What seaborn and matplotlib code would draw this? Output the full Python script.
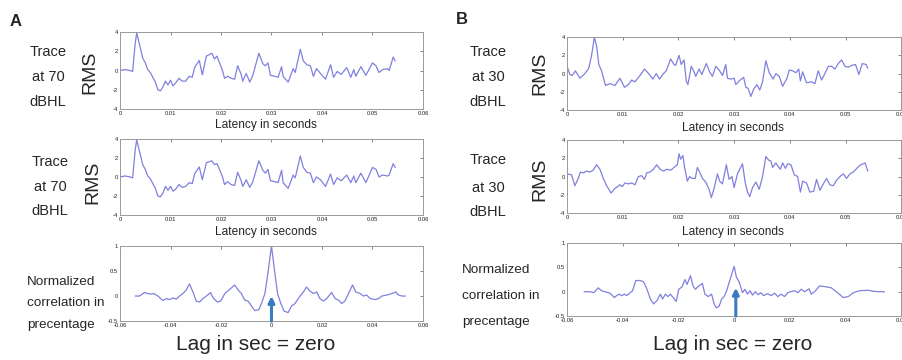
import numpy as np
import seaborn as sns
import matplotlib.pyplot as plt

# ---- data ----
# panel A, trace at 70 dBHL (top)
a1_t = [0, 0.001, 0.002, 0.0025, 0.003, 0.0033, 0.004, 0.0045, 0.005, 0.0055, 0.006, 0.007, 0.0075, 0.008,
        0.0085, 0.009, 0.0095, 0.010, 0.0105, 0.011, 0.0117, 0.0123, 0.013, 0.0137, 0.0143, 0.0148, 0.0157,
        0.0163, 0.0171, 0.0182, 0.0187, 0.0192, 0.0197, 0.0203, 0.0207, 0.0213, 0.022, 0.0227, 0.0233, 0.024,
        0.0243, 0.025, 0.0257, 0.0263, 0.0275, 0.0283, 0.0288, 0.0293, 0.0298, 0.0307, 0.0313, 0.032, 0.0323,
        0.0333, 0.0343, 0.0347, 0.0357, 0.0363, 0.037, 0.0377, 0.0383, 0.0389, 0.0397, 0.0407, 0.0417, 0.0423,
        0.043, 0.0438, 0.0449, 0.0457, 0.0463, 0.0467, 0.0477, 0.0487, 0.05, 0.0507, 0.0513, 0.052, 0.053,
        0.0533, 0.0541, 0.0545]
a1_v = [0.0, 0.1, 0.0, -0.1, 2.8, 3.9, 2.4, 1.3, 0.8, 0.1, -0.2, -1.2, -2.0, -2.1,
        -1.7, -1.1, -1.5, -1.0, -1.6, -1.3, -0.8, -1.1, -1.1, -0.6, -0.7, 0.35, 1.05,
        -0.45, 1.5, 1.8, 1.2, 1.5, 0.8, 0.0, -0.8, -0.6, -0.8, -0.9, 0.5, -0.4,
        -1.1, -0.3, -1.2, -0.5, 1.8, 0.7, 0.5, 0.8, -0.5, -0.6, -0.7, 0.4, -0.6,
        -1.2, 0.2, -0.2, 2.2, 1.0, 0.6, 0.5, -0.6, 0.2, -0.3, -0.9, 0.6, -0.7,
        -0.1, -0.4, 0.3, -0.7, 0.1, -0.6, 0.4, -0.5, 0.8, 0.5, -0.2, 0.1, 0.2,
        0.0, 1.4, 1.0]
# panel A, trace at 70 dBHL (middle)
a2_t = a1_t
a2_v = [0.0, 0.1, 0.0, -0.1, 2.8, 3.9, 2.4, 1.3, 0.8, 0.1, -0.2, -1.2, -2.0, -2.1,
        -1.7, -1.0, -1.4, -1.0, -1.5, -1.3, -0.8, -1.1, -1.0, -0.6, -0.7, 0.35, 1.05,
        -0.3, 1.5, 1.7, 1.3, 1.4, 0.8, 0.0, -0.8, -0.5, -0.8, -0.9, 0.5, -0.4,
        -1.0, -0.3, -1.1, -0.5, 1.7, 0.7, 0.4, 0.8, -0.4, -0.5, -0.6, 0.7, -0.6,
        -1.2, 0.2, -0.1, 2.2, 1.0, 0.5, 0.4, -0.6, 0.0, -0.3, -1.0, 0.3, -0.8,
        -0.1, -0.4, 0.2, -0.6, 0.1, -0.6, 0.4, -0.6, 1.0, 0.8, 0.0, 0.2, 0.1,
        0.2, 1.4, 1.0]
# panel A, normalized cross-correlation
a3_t = [-0.054, -0.0523, -0.0503, -0.049, -0.0477, -0.0466, -0.045, -0.043, -0.0417, -0.0404,
        -0.0391, -0.0377, -0.0364, -0.0351, -0.0338, -0.0325, -0.0311, -0.0298, -0.0285, -0.0272,
        -0.0258, -0.0241, -0.0232, -0.0215, -0.0201, -0.0185, -0.0166, -0.0146, -0.0132, -0.0119,
        -0.0106, -0.0093, -0.0079, -0.0066, -0.005, -0.004, -0.0026, -0.0013, 0.0, 0.0011,
        0.0024, 0.0037, 0.005, 0.0066, 0.0079, 0.0093, 0.0113, 0.0126, 0.0139, 0.0152,
        0.0166, 0.0179, 0.0192, 0.0205, 0.0219, 0.0238, 0.0252, 0.0265, 0.0278, 0.0291,
        0.0305, 0.0321, 0.0334, 0.0351, 0.0364, 0.0377, 0.0391, 0.0411, 0.0424, 0.0437,
        0.0457, 0.0477, 0.0493, 0.0503, 0.0517, 0.053]
a3_v = [0.0, 0.0, 0.07, 0.05, 0.04, 0.05, 0.0, -0.09, -0.05, -0.07,
        -0.04, -0.06, 0.0, 0.05, 0.12, 0.24, 0.08, -0.10, -0.12, -0.05,
        0.0, 0.07, -0.03, -0.12, -0.10, 0.05, 0.13, 0.22, 0.12, 0.05,
        -0.08, -0.10, -0.20, -0.29, -0.27, -0.15, 0.05, 0.5, 1.0, 0.55,
        0.05, -0.15, -0.30, -0.33, -0.20, -0.15, 0.0, 0.08, 0.18, 0.10,
        0.05, 0.08, -0.05, -0.10, -0.05, 0.07, -0.05, -0.08, -0.15, -0.10,
        0.05, 0.22, 0.08, 0.05, 0.0, 0.02, -0.05, -0.07, -0.05, 0.0,
        0.02, 0.05, 0.08, 0.02, 0.0, 0.0]

# panel B, trace at 30 dBHL (top)
b1_t = [0, 0.0005, 0.0009, 0.0015, 0.0023, 0.0032, 0.0039, 0.0044, 0.0049, 0.0053,
        0.0057, 0.0062, 0.0069, 0.0077, 0.0086, 0.0095, 0.0103, 0.011, 0.0116, 0.0122,
        0.0131, 0.0139, 0.0148, 0.0154, 0.016, 0.0166, 0.0173, 0.0178, 0.0186, 0.0192,
        0.0195, 0.0201, 0.0205, 0.021, 0.0214, 0.0217, 0.0223, 0.0228, 0.0231, 0.0237,
        0.0242, 0.025, 0.0256, 0.0261, 0.0267, 0.0273, 0.0279, 0.0285, 0.0288, 0.0294,
        0.03, 0.0303, 0.0309, 0.0317, 0.0321, 0.0325, 0.033, 0.0335, 0.0341, 0.0346,
        0.0351, 0.0357, 0.0363, 0.037, 0.0375, 0.0381, 0.0387, 0.0395, 0.0399, 0.0405,
        0.0411, 0.0416, 0.0419, 0.0423, 0.043, 0.0439, 0.0445, 0.0451, 0.0457, 0.0463,
        0.0469, 0.0475, 0.0481, 0.0487, 0.0493, 0.0499, 0.0505, 0.0511,
        0.0518, 0.0524, 0.053, 0.0537, 0.054]
b1_v = [0.8, -0.1, -0.2, 0.3, -0.5, 0.0, 0.6, 2.0, 4.0, 3.0,
        1.0, 0.3, -1.3, -1.1, -1.3, -0.5, -1.5, -1.2, -0.7, -0.9,
        -0.2, 0.5, -0.1, -0.6, 0.0, -0.6, 0.0, 0.3, 1.6, 1.0,
        0.9, 2.0, 1.0, 1.5, -0.8, -1.2, 0.8, 0.2, -0.3, 0.5,
        -0.1, 1.1, 0.2, -0.3, 0.8, 0.4, -0.2, 1.0, -0.5, -0.6,
        -0.5, -1.2, -0.8, -0.4, -1.5, -1.6, -2.5, -1.7, -1.2, -1.8,
        -0.9, 1.4, 0.1, -0.6, 0.0, -0.3, -1.4, -0.5, 0.4, 0.3,
        0.1, 0.5, -0.8, 0.2, -1.0, -0.9, -1.1, 0.3, -0.7, 0.0,
        0.8, 0.8, 0.5, 1.1, 1.5, 0.8, 0.7, 0.9,
        1.0, -0.1, 1.1, 1.0, 0.6]
# panel B, trace at 30 dBHL (middle)
b2_t = [0, 0.0008, 0.0014, 0.002, 0.0024, 0.0029, 0.0035, 0.0041, 0.0047, 0.0053,
        0.0059, 0.0065, 0.0071, 0.0079, 0.0086, 0.0095, 0.0099, 0.0104, 0.011, 0.0116,
        0.0122, 0.0128, 0.0134, 0.0139, 0.0143, 0.0149, 0.0155, 0.0161, 0.0167, 0.0173,
        0.0179, 0.0186, 0.0192, 0.0198, 0.0201, 0.0204, 0.0208, 0.0211, 0.0216, 0.022,
        0.0225, 0.023, 0.0234, 0.0238, 0.0243, 0.0249, 0.0255, 0.0259, 0.0264, 0.027,
        0.0274, 0.0279, 0.0286, 0.0291, 0.0296, 0.03, 0.0306, 0.0315, 0.032, 0.0324,
        0.0328, 0.0333, 0.0339, 0.0345, 0.0351, 0.0357, 0.0362, 0.0366, 0.0369, 0.0375,
        0.0378, 0.0383, 0.0387, 0.0392, 0.0396, 0.0402, 0.0408, 0.0414, 0.0419, 0.0423,
        0.043, 0.0436, 0.0443, 0.0448, 0.0454, 0.0461, 0.0466, 0.0472, 0.0478, 0.0484,
        0.049, 0.0496, 0.0502, 0.0508, 0.0514, 0.0525, 0.0535, 0.054]
b2_v = [0.3, 0.2, -1.0, -0.2, 0.5, 0.4, 0.6, 0.5, 0.7, 1.3,
        0.8, -0.2, -1.0, -1.8, -1.3, -0.9, -1.1, -0.7, -0.8, -0.7,
        -0.9, 0.0, 0.1, -0.3, 0.4, 0.5, 0.8, 1.3, 0.8, 0.6,
        0.8, 0.7, 1.0, 1.3, 2.5, 1.9, 2.3, 1.0, -0.5, 0.0,
        -0.2, -0.2, 1.0, 0.5, -0.2, -0.6, -1.4, -2.3, -1.3, 0.3,
        -0.5, -0.8, 1.3, -0.3, 0.0, -1.2, 0.3, 1.4, -0.7, -1.7,
        -2.2, -1.2, -0.6, -1.4, 0.0, 2.2, 1.8, 1.7, 1.0, 1.5,
        1.2, 0.8, 1.5, 0.9, 1.4, 1.3, 0.2, 0.0, -1.7, -0.5,
        -0.7, -1.7, -1.6, -0.3, -1.5, -0.7, -0.2, -0.9, -1.0, -0.4,
        0.0, 0.3, -0.2, 0.3, 0.5, 1.2, 1.5, 0.6]
# panel B, normalized cross-correlation
b3_t = [-0.0539, -0.0518, -0.0504, -0.0488, -0.0476, -0.0464, -0.0446, -0.043, -0.0422, -0.0413,
        -0.0404, -0.0394, -0.0386, -0.0373, -0.0365, -0.0353, -0.0337, -0.0325, -0.0313, -0.0301,
        -0.0289, -0.0277, -0.0265, -0.0257, -0.0247, -0.0238, -0.0229, -0.0219, -0.0208, -0.0199,
        -0.0187, -0.0177, -0.0169, -0.0157, -0.0148, -0.0139, -0.0127, -0.0114, -0.0105, -0.0093,
        -0.0081, -0.0072, -0.0064, -0.0054, -0.0045, -0.0036, -0.0028, -0.0012, 0.0, 0.0008,
        0.0018, 0.003, 0.0039, 0.0048, 0.0057, 0.0066, 0.0076, 0.0086, 0.0096, 0.0106,
        0.012, 0.0133, 0.0145, 0.0157, 0.0169, 0.0181, 0.0193, 0.0202, 0.0217, 0.0229,
        0.0241, 0.0253, 0.0269, 0.0277, 0.0289, 0.0307, 0.0331, 0.0349, 0.0367, 0.0392,
        0.041, 0.0428, 0.045, 0.048, 0.05, 0.052, 0.054]
b3_v = [0.0, 0.0, -0.02, 0.08, 0.02, 0.0, -0.03, -0.12, -0.08, -0.05,
        -0.08, -0.05, -0.08, -0.02, 0.02, 0.23, 0.23, 0.2, 0.05, -0.15,
        -0.25, -0.18, -0.05, -0.15, -0.05, -0.1, -0.05, -0.12, -0.2, 0.05,
        0.1, 0.25, 0.15, 0.33, 0.12, 0.05, 0.12, 0.17, -0.05, -0.1,
        -0.05, -0.25, -0.33, -0.3, -0.15, -0.1, 0.0, 0.3, 0.52, 0.3,
        0.2, -0.02, 0.05, -0.05, 0.02, -0.07, 0.0, -0.06, -0.02, -0.08,
        -0.04, -0.08, -0.03, -0.1, -0.05, -0.1, -0.02, 0.0, 0.02, -0.02,
        0.05, 0.0, 0.06, -0.05, 0.0, 0.12, 0.1, 0.08, 0.0, -0.12,
        -0.1, -0.02, 0.02, 0.03, 0.01, 0.0, 0.0]

lat_ticks = [0, 0.01, 0.02, 0.03, 0.04, 0.05, 0.06]
lat_labels = ['0', '0.01', '0.02', '0.03', '0.04', '0.05', '0.06']
lag_ticks = [-0.06, -0.04, -0.02, 0, 0.02, 0.04, 0.06]
lag_labels = ['-0.06', '-0.04', '-0.02', '0', '0.02', '0.04', '0.06']
rms_ticks = [-4, -2, 0, 2, 4]
rms_labels = ['-4', '-2', '0', '2', '4']
corr_ticks = [-0.5, 0, 0.5, 1]
corr_labels = ['-0.5', '0', '0.5', '1']

LINE = '#8080de'
ARROW = '#3b7bbf'
CAL = ['Liberation Sans', 'DejaVu Sans']

sns.set_style('white')
plt.rcParams['font.family'] = ['Liberation Sans', 'DejaVu Sans']
plt.rcParams['axes.unicode_minus'] = False

fig = plt.figure(figsize=(9.03, 3.6), dpi=100)


def panel(rect, t, v, corr=False):
    ax = fig.add_axes(rect)
    sns.lineplot(x=t, y=v, ax=ax, color=LINE, lw=0.9)
    if corr:
        ax.set_xlim(-0.06, 0.06)
        ax.set_ylim(-0.5, 1)
        ax.set_xticks(lag_ticks)
        ax.set_xticklabels(lag_labels)
        ax.set_yticks(corr_ticks)
        ax.set_yticklabels(corr_labels)
    else:
        ax.set_xlim(0, 0.06)
        ax.set_ylim(-4, 4)
        ax.set_xticks(lat_ticks)
        ax.set_xticklabels(lat_labels)
        ax.set_yticks(rms_ticks)
        ax.set_yticklabels(rms_labels)
    ax.tick_params(direction='in', length=2.5, width=0.5, labelsize=4.2, pad=1.5,
                   top=True, right=True, colors='#555555', labelcolor='#222222')
    for s in ax.spines.values():
        s.set_visible(True)
        s.set_color('#999999')
        s.set_linewidth(0.7)
    ax.set_xlabel('')
    ax.set_ylabel('')
    return ax


# panel A
axA1 = panel([0.1329, 0.697, 0.3355, 0.214], a1_t, a1_v)
axA2 = panel([0.1329, 0.403, 0.3355, 0.211], a2_t, a2_v)
axA3 = panel([0.1329, 0.108, 0.3355, 0.209], a3_t, a3_v, corr=True)
# panel B
axB1 = panel([0.628, 0.694, 0.370, 0.203], b1_t, b1_v)
axB2 = panel([0.628, 0.408, 0.370, 0.203], b2_t, b2_v)
axB3 = panel([0.628, 0.122, 0.370, 0.203], b3_t, b3_v, corr=True)

# arrows marking zero lag
axA3.annotate('', xy=(0, 0.0), xytext=(0, -0.5), annotation_clip=False,
              arrowprops=dict(arrowstyle='-|>', color=ARROW, lw=2.2, mutation_scale=9,
                              shrinkA=0, shrinkB=0))
axB3.annotate('', xy=(0.0006, 0.08), xytext=(0.0006, -0.5), annotation_clip=False,
              arrowprops=dict(arrowstyle='-|>', color=ARROW, lw=2.2, mutation_scale=9,
                              shrinkA=0, shrinkB=0))


def px(x, y):
    return x / 903, 1 - y / 360


# panel letters
fig.text(*px(16, 22), 'A', fontsize=12, fontweight='bold', family=CAL, ha='center', va='center')
fig.text(*px(462, 20), 'B', fontsize=12, fontweight='bold', family=CAL, ha='center', va='center')

# left-side labels
for (x0, ys, lines) in [(48, [52, 77, 102], ['Trace', 'at 70', 'dBHL']),
                        (50, [162, 187, 211], ['Trace', 'at 70', 'dBHL']),
                        (488, [52, 77, 102], ['Trace', 'at 30', 'dBHL']),
                        (488, [160, 188, 212], ['Trace', 'at 30', 'dBHL'])]:
    for y, s in zip(ys, lines):
        fig.text(*px(x0, y), s, fontsize=10.5, family=CAL, ha='center', va='center')

for (x0, y0) in [(90, 72), (93, 182), (540, 73), (540, 179)]:
    fig.text(*px(x0, y0), 'RMS', fontsize=14, family=CAL, rotation=90, ha='center', va='center')

for (x0, y0) in [(266, 125), (266, 232), (733, 128), (733, 232)]:
    fig.text(*px(x0, y0), 'Latency in seconds', fontsize=8.6, family=CAL, ha='center', va='center')

for (x0, ys) in [(27, [282, 303, 325]), (462, [270, 296, 322])]:
    for y, s in zip(ys, ['Normalized', 'correlation in', 'precentage']):
        fig.text(*px(x0, y), s, fontsize=9.7, family=CAL, ha='left', va='center')

fig.text(*px(256, 345), 'Lag in sec = zero', fontsize=15, family=CAL, ha='center', va='center')
fig.text(*px(733, 345), 'Lag in sec = zero', fontsize=15, family=CAL, ha='center', va='center')

fig.savefig('out.png', dpi=100)
